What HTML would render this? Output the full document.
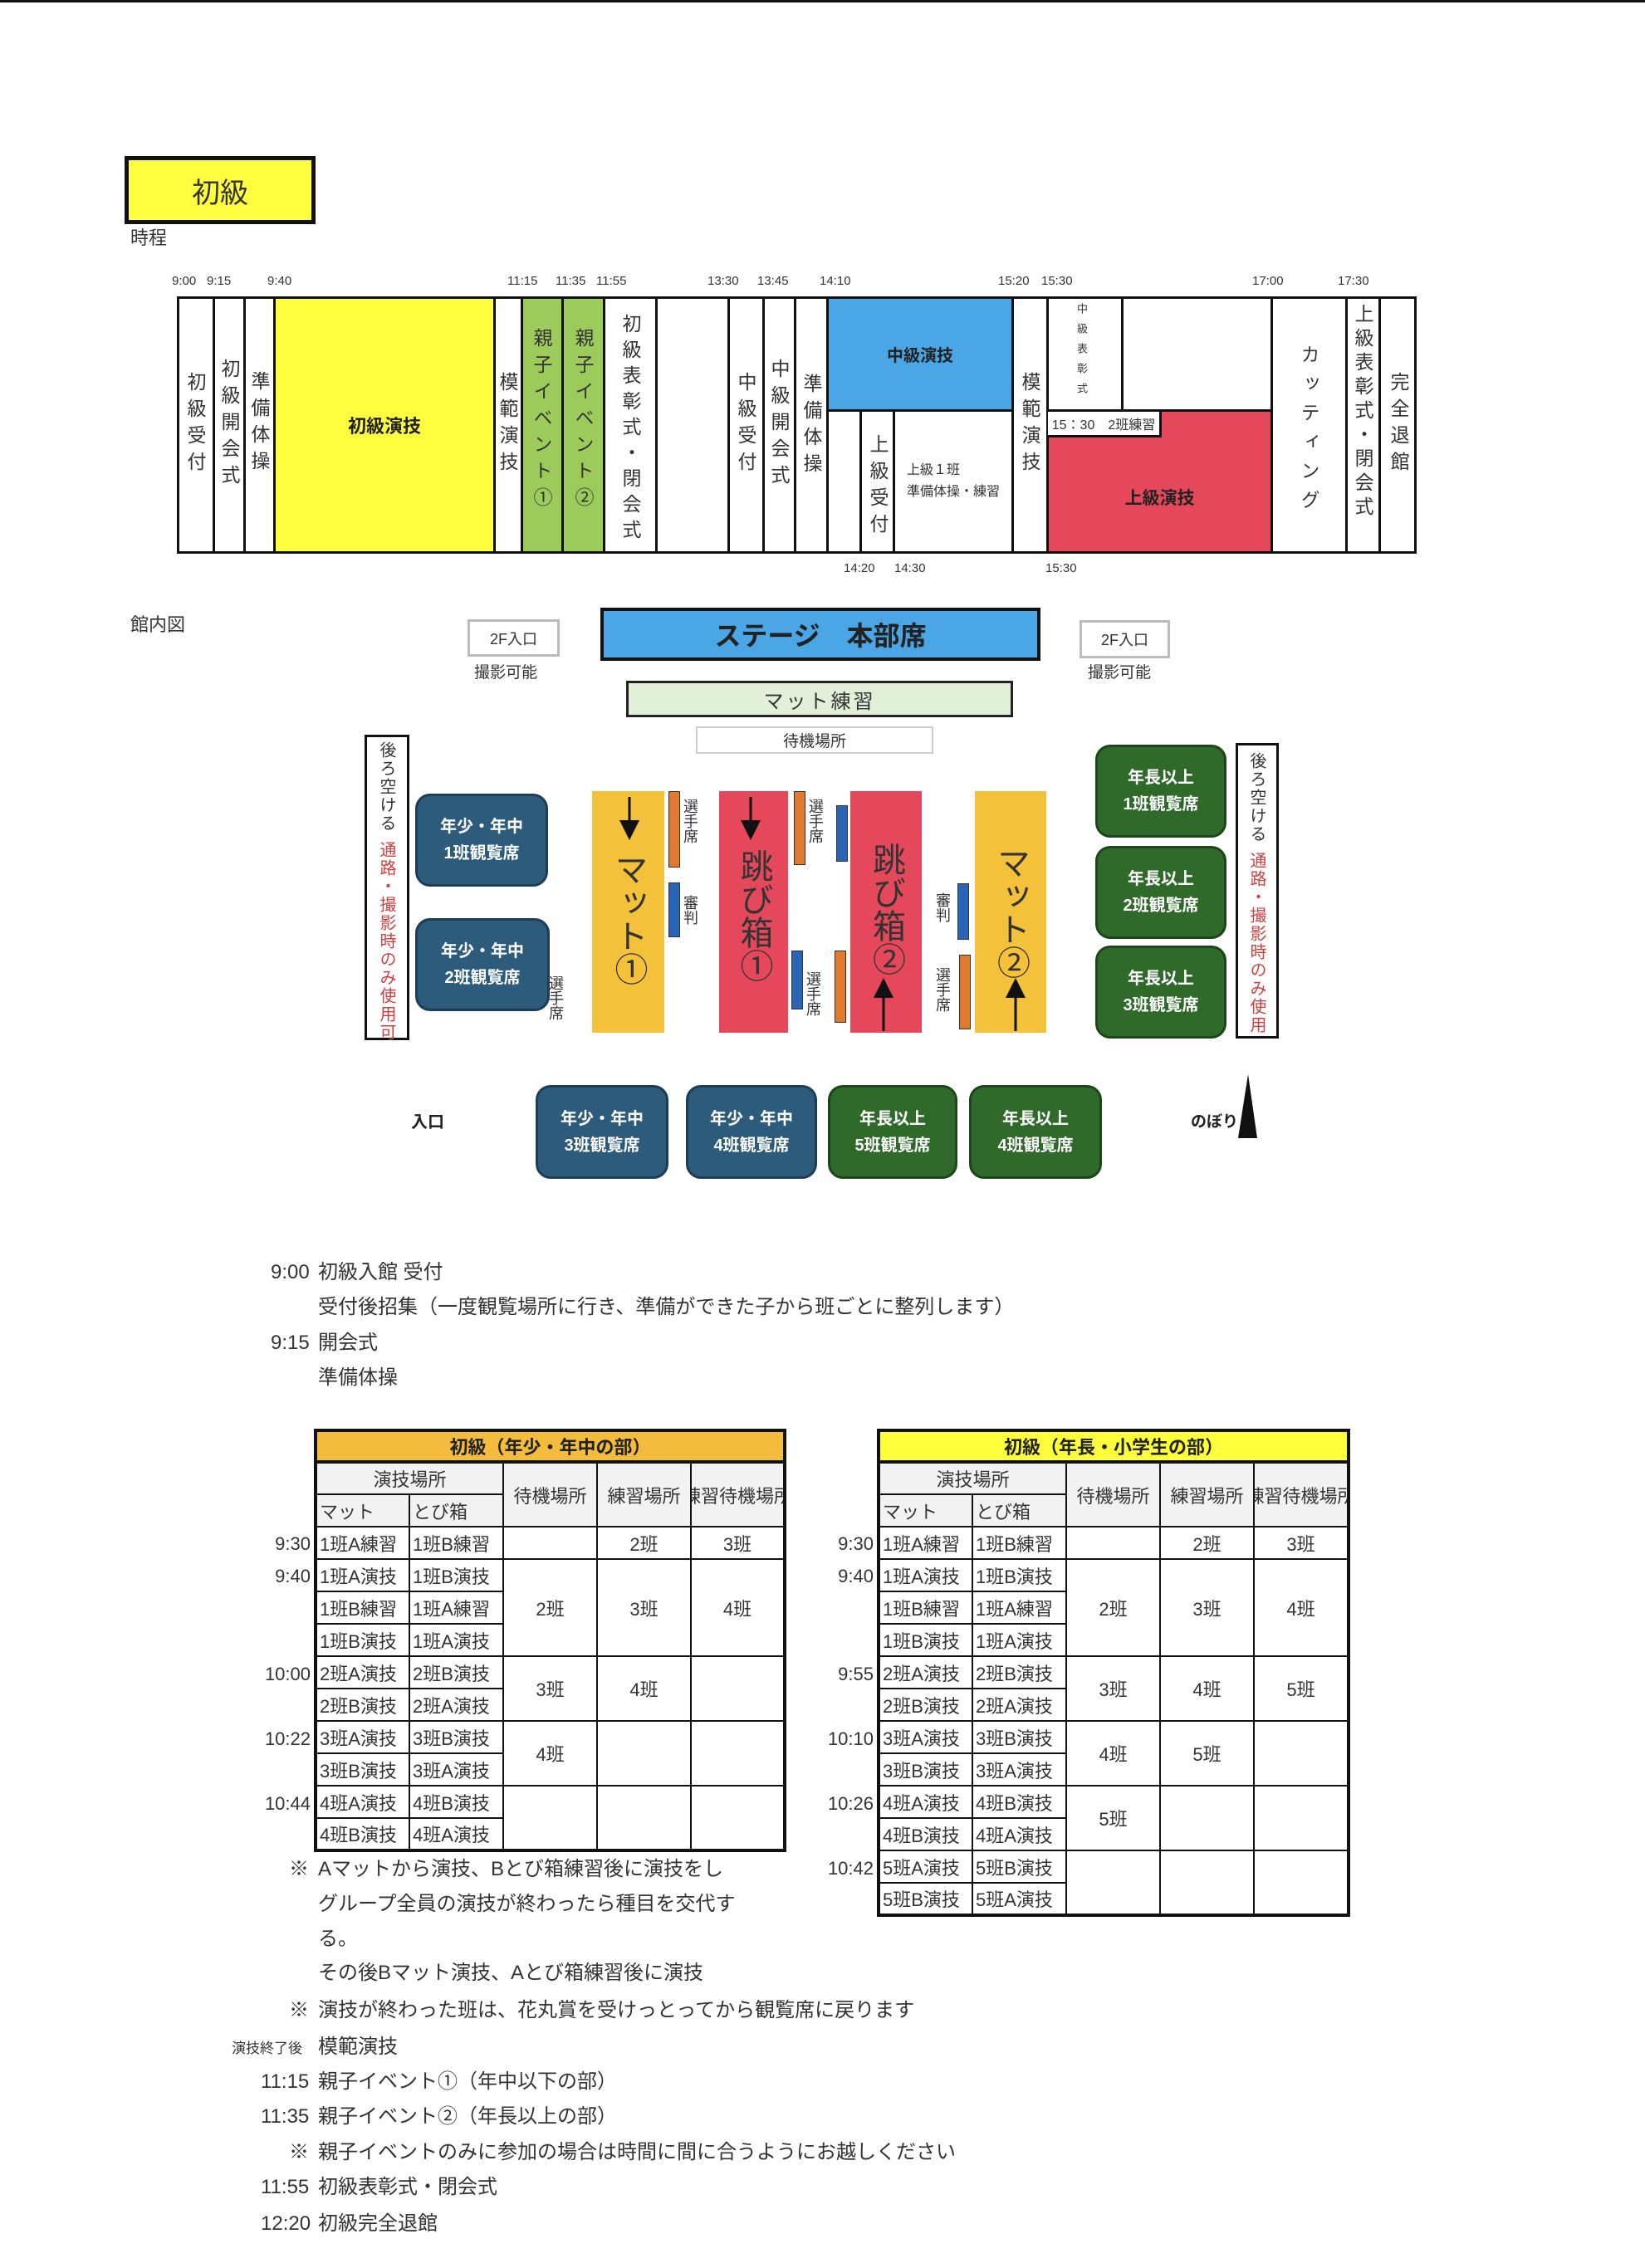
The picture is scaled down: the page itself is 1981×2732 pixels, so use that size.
<!DOCTYPE html>
<html><head><meta charset="utf-8">
<style>
*{margin:0;padding:0;box-sizing:border-box}
body{width:1981px;height:2732px;position:relative;background:#fff;font-family:"Liberation Sans","Noto Sans CJK JP",sans-serif;color:#333;overflow:hidden}
.a{position:absolute}
.c{position:absolute;border:3px solid #111;background:#fff}
.v{writing-mode:vertical-rl;text-orientation:upright;position:absolute;font-size:23px;line-height:1;letter-spacing:9px;color:#333}
.cen{display:flex;align-items:center;justify-content:center}
.rb{position:absolute;border-radius:18px;color:#fff;font-weight:bold;font-size:20px;line-height:32px;text-align:center;display:flex;align-items:center;justify-content:center}
.blue{background:#2d5b7c;border:3px solid #1d3d55}
.green{background:#2f6a2a;border:3px solid #1c4619}
.strip{position:absolute;width:14px;border:1px solid #333}
.or{background:#e07a2e}.bl{background:#2a64b4}
.sv{writing-mode:vertical-rl;text-orientation:upright;position:absolute;font-size:18px;line-height:1;color:#333}
table{position:absolute;border-collapse:collapse;table-layout:fixed;font-size:22px;border:4px solid #111}
td{border:2px solid #111;height:39px;padding:0 3px;white-space:nowrap;overflow:hidden;color:#333}
td.h{background:#f2f2f2}
td.m{text-align:center}
.tt{font-weight:bold;text-align:center;height:38px;border:4px solid #111}
.clip{display:flex;justify-content:center;overflow:hidden;white-space:nowrap}
.time{position:absolute;font-size:22px;line-height:30px;text-align:right;width:80px}
.tx{position:absolute;font-size:24px;line-height:30px;white-space:nowrap;color:#333}
</style></head><body>
<div class="a" style="left:0;top:0;width:1981px;height:3px;background:#111"></div>

<div class="a cen" style="left:150px;top:188px;width:230px;height:82px;background:#ffff40;border:5px solid #111;font-size:34px;color:#333">初級</div>
<div class="tx" style="left:157px;top:272px;font-size:22px">時程</div>

<div class="tx" style="left:207px;top:324px;font-size:15px">9:00</div>
<div class="tx" style="left:249px;top:324px;font-size:15px">9:15</div>
<div class="tx" style="left:322px;top:324px;font-size:15px">9:40</div>
<div class="tx" style="left:611px;top:324px;font-size:15px">11:15</div>
<div class="tx" style="left:669px;top:324px;font-size:15px">11:35</div>
<div class="tx" style="left:718px;top:324px;font-size:15px">11:55</div>
<div class="tx" style="left:852px;top:324px;font-size:15px">13:30</div>
<div class="tx" style="left:912px;top:324px;font-size:15px">13:45</div>
<div class="tx" style="left:987px;top:324px;font-size:15px">14:10</div>
<div class="tx" style="left:1202px;top:324px;font-size:15px">15:20</div>
<div class="tx" style="left:1254px;top:324px;font-size:15px">15:30</div>
<div class="tx" style="left:1508px;top:324px;font-size:15px">17:00</div>
<div class="tx" style="left:1611px;top:324px;font-size:15px">17:30</div>
<div class="tx" style="left:1016px;top:670px;font-size:15px">14:20</div>
<div class="tx" style="left:1077px;top:670px;font-size:15px">14:30</div>
<div class="tx" style="left:1259px;top:670px;font-size:15px">15:30</div>

<div class="c" style="left:213px;top:357px;width:46px;height:310px"></div>
<div class="c" style="left:256px;top:357px;width:40px;height:310px"></div>
<div class="c" style="left:293px;top:357px;width:39px;height:310px"></div>
<div class="c cen" style="left:329px;top:357px;width:268px;height:310px;background:#ffff40;font-weight:bold;font-size:22px;color:#222">初級演技</div>
<div class="c" style="left:594px;top:357px;width:36px;height:310px"></div>
<div class="c" style="left:627px;top:357px;width:52px;height:310px;background:#9ccb5c"></div>
<div class="c" style="left:676px;top:357px;width:53px;height:310px;background:#9ccb5c"></div>
<div class="c" style="left:726px;top:357px;width:66px;height:310px"></div>
<div class="c" style="left:789px;top:357px;width:90px;height:310px"></div>
<div class="c" style="left:876px;top:357px;width:45px;height:310px"></div>
<div class="c" style="left:918px;top:357px;width:41px;height:310px"></div>
<div class="c" style="left:956px;top:357px;width:42px;height:310px"></div>
<div class="c cen" style="left:995px;top:357px;width:226px;height:139px;background:#4aa6e4;font-weight:bold;font-size:20px;color:#222">中級演技</div>
<div class="c" style="left:995px;top:493px;width:43px;height:174px"></div>
<div class="c" style="left:1035px;top:493px;width:43px;height:174px"></div>
<div class="c cen" style="left:1075px;top:493px;width:146px;height:174px;flex-direction:column;font-size:16px;line-height:26px">上級１班<br>準備体操・練習</div>
<div class="c" style="left:1218px;top:357px;width:45px;height:310px"></div>
<div class="c" style="left:1260px;top:357px;width:93px;height:139px"></div>
<div class="c" style="left:1350px;top:357px;width:183px;height:139px"></div>
<div class="c" style="left:1260px;top:493px;width:273px;height:174px;background:#e4485a"></div>
<div class="a cen" style="left:1262px;top:496px;width:137px;height:31px;background:#fff;border-right:3px solid #111;border-bottom:3px solid #111;font-size:16px">15：30　2班練習</div>
<div class="a cen" style="left:1260px;top:545px;width:273px;height:107px;font-weight:bold;font-size:21px;color:#222">上級演技</div>
<div class="c" style="left:1530px;top:357px;width:93px;height:310px"></div>
<div class="c" style="left:1620px;top:357px;width:43px;height:310px"></div>
<div class="c" style="left:1660px;top:357px;width:46px;height:310px"></div>

<div class="v" style="left:223px;top:448px">初級受付</div>
<div class="v" style="left:264px;top:432px">初級開会式</div>
<div class="v" style="left:300px;top:447px">準備体操</div>
<div class="v" style="left:599px;top:448px">模範演技</div>
<div class="v" style="left:640px;top:395px">親子イベント①</div>
<div class="v" style="left:690px;top:395px">親子イベント②</div>
<div class="v" style="left:747px;top:378px;letter-spacing:8px">初級表彰式・閉会式</div>
<div class="v" style="left:886px;top:448px">中級受付</div>
<div class="v" style="left:926px;top:432px">中級開会式</div>
<div class="v" style="left:965px;top:450px">準備体操</div>
<div class="v" style="left:1045px;top:523px">上級受付</div>
<div class="v" style="left:1228px;top:448px">模範演技</div>
<div class="v" style="left:1296px;top:365px;font-size:13px;letter-spacing:11px">中級表彰式</div>
<div class="v" style="left:1564px;top:415px;letter-spacing:12px">カッティング</div>
<div class="v" style="left:1629px;top:366px;letter-spacing:6px">上級表彰式・閉会式</div>
<div class="v" style="left:1672px;top:448px">完全退館</div>

<div class="tx" style="left:157px;top:738px;font-size:22px">館内図</div>
<div class="a cen" style="left:563px;top:746px;width:111px;height:45px;border:3px solid #bbb;font-size:18px">2F入口</div>
<div class="tx" style="left:571px;top:796px;font-size:19px">撮影可能</div>
<div class="a cen" style="left:1300px;top:747px;width:109px;height:46px;border:3px solid #bbb;font-size:18px">2F入口</div>
<div class="tx" style="left:1310px;top:796px;font-size:19px">撮影可能</div>
<div class="a cen" style="left:723px;top:732px;width:530px;height:64px;background:#4aa6e4;border:4px solid #111;font-weight:bold;font-size:32px;color:#222">ステージ　本部席</div>
<div class="a cen" style="left:754px;top:820px;width:466px;height:44px;background:#e2f0d9;border:3px solid #222;font-size:24px;letter-spacing:3px">マット練習</div>
<div class="a cen" style="left:838px;top:875px;width:286px;height:33px;border:2px solid #ccc;font-size:19px">待機場所</div>

<div class="a" style="left:439px;top:885px;width:54px;height:368px;border:3px solid #111"></div>
<div class="sv" style="left:455px;top:893px;font-size:20px;letter-spacing:2px">後ろ空ける<span style="color:#d04040;display:inline-block;margin-top:10px">通路・撮影時のみ使用可</span></div>
<div class="a" style="left:1488px;top:895px;width:52px;height:356px;border:3px solid #111"></div>
<div class="sv" style="left:1503px;top:906px;font-size:20px;letter-spacing:2px">後ろ空ける<span style="color:#d04040;display:inline-block;margin-top:10px">通路・撮影時のみ使用</span></div>

<div class="rb blue" style="left:500px;top:956px;width:160px;height:112px">年少・年中<br>1班観覧席</div>
<div class="rb blue" style="left:500px;top:1106px;width:162px;height:112px">年少・年中<br>2班観覧席</div>
<div class="sv" style="left:660px;top:1175px">選手席</div>

<div class="a cen" style="left:713px;top:953px;width:87px;height:291px;background:#f3c13a"><span class="sv" style="position:static;font-size:40px;margin-top:16px">マット①</span></div>
<div class="a cen" style="left:866px;top:953px;width:83px;height:291px;background:#e4485a"><span class="sv" style="position:static;font-size:40px;margin-top:8px">跳び箱①</span></div>
<div class="a cen" style="left:1024px;top:953px;width:86px;height:291px;background:#e4485a"><span class="sv" style="position:static;font-size:40px;margin-top:-8px">跳び箱②</span></div>
<div class="a cen" style="left:1174px;top:953px;width:86px;height:291px;background:#f3c13a"><span class="sv" style="position:static;font-size:40px;margin-top:0px">マット②</span></div>

<div class="strip or" style="left:805px;top:953px;height:92px"></div>
<div class="sv" style="left:822px;top:962px">選手席</div>
<div class="strip bl" style="left:805px;top:1063px;height:66px"></div>
<div class="sv" style="left:822px;top:1078px">審判</div>
<div class="strip or" style="left:956px;top:953px;height:89px"></div>
<div class="sv" style="left:973px;top:962px">選手席</div>
<div class="strip bl" style="left:1007px;top:970px;height:68px"></div>
<div class="strip bl" style="left:953px;top:1145px;height:71px"></div>
<div class="strip or" style="left:1005px;top:1145px;height:87px"></div>
<div class="sv" style="left:970px;top:1170px">選手席</div>
<div class="sv" style="left:1126px;top:1075px">審判</div>
<div class="strip bl" style="left:1153px;top:1064px;height:68px"></div>
<div class="sv" style="left:1126px;top:1165px">選手席</div>
<div class="strip or" style="left:1155px;top:1150px;height:90px"></div>

<div class="rb green" style="left:1319px;top:897px;width:158px;height:112px">年長以上<br>1班観覧席</div>
<div class="rb green" style="left:1319px;top:1019px;width:158px;height:112px">年長以上<br>2班観覧席</div>
<div class="rb green" style="left:1319px;top:1139px;width:158px;height:112px">年長以上<br>3班観覧席</div>

<div class="rb blue" style="left:645px;top:1307px;width:160px;height:113px">年少・年中<br>3班観覧席</div>
<div class="rb blue" style="left:826px;top:1307px;width:158px;height:113px">年少・年中<br>4班観覧席</div>
<div class="rb green" style="left:997px;top:1307px;width:156px;height:113px">年長以上<br>5班観覧席</div>
<div class="rb green" style="left:1167px;top:1307px;width:160px;height:113px">年長以上<br>4班観覧席</div>
<div class="tx" style="left:495px;top:1337px;font-size:20px;font-weight:bold;color:#222">入口</div>
<div class="tx" style="left:1434px;top:1337px;font-size:19px;font-weight:bold;color:#222">のぼり</div>

<svg class="a" style="left:0;top:0" width="1981" height="2732">
<defs><marker id="ah" markerWidth="8" markerHeight="8" refX="4" refY="4" orient="auto"><path d="M0,0 L8,4 L0,8 z" fill="#111"/></marker></defs>
<g stroke="#111" stroke-width="3">
<line x1="758" y1="960" x2="758" y2="1000" marker-end="url(#ah)"/>
<line x1="904" y1="960" x2="904" y2="1000" marker-end="url(#ah)"/>
<line x1="1064" y1="1242" x2="1064" y2="1190" marker-end="url(#ah)"/>
<line x1="1223" y1="1242" x2="1223" y2="1190" marker-end="url(#ah)"/>
</g>
<polygon points="1503,1294 1491,1371 1514,1371" fill="#111"/>
</svg>

<div class="tx" style="left:326px;top:1518px">9:00</div><div class="tx" style="left:383px;top:1518px">初級入館 受付</div>
<div class="tx" style="left:383px;top:1560px">受付後招集（一度観覧場所に行き、準備ができた子から班ごとに整列します）</div>
<div class="tx" style="left:326px;top:1603px">9:15</div><div class="tx" style="left:383px;top:1603px">開会式</div>
<div class="tx" style="left:383px;top:1645px">準備体操</div>

<table style="left:378px;top:1721px;width:565px">
<colgroup><col style="width:113px"><col style="width:113px"><col style="width:113px"><col style="width:113px"><col style="width:113px"></colgroup>
<tr><td colspan="5" class="tt" style="background:#f3bc3c;color:#222">初級（年少・年中の部）</td></tr>
<tr><td colspan="2" class="h m">演技場所</td><td rowspan="2" class="h m">待機場所</td><td rowspan="2" class="h m">練習場所</td><td rowspan="2" class="h" style="padding:0"><div class="clip">練習待機場所</div></td></tr>
<tr><td class="h">マット</td><td class="h">とび箱</td></tr>
<tr><td>1班A練習</td><td>1班B練習</td><td></td><td class="m">2班</td><td class="m">3班</td></tr>
<tr><td>1班A演技</td><td>1班B演技</td><td rowspan="3" class="m">2班</td><td rowspan="3" class="m">3班</td><td rowspan="3" class="m">4班</td></tr>
<tr><td>1班B練習</td><td>1班A練習</td></tr>
<tr><td>1班B演技</td><td>1班A演技</td></tr>
<tr><td>2班A演技</td><td>2班B演技</td><td rowspan="2" class="m">3班</td><td rowspan="2" class="m">4班</td><td rowspan="2"></td></tr>
<tr><td>2班B演技</td><td>2班A演技</td></tr>
<tr><td>3班A演技</td><td>3班B演技</td><td rowspan="2" class="m">4班</td><td rowspan="2"></td><td rowspan="2"></td></tr>
<tr><td>3班B演技</td><td>3班A演技</td></tr>
<tr><td>4班A演技</td><td>4班B演技</td><td rowspan="2"></td><td rowspan="2"></td><td rowspan="2"></td></tr>
<tr><td>4班B演技</td><td>4班A演技</td></tr>
</table>
<div class="time" style="left:294px;top:1845px">9:30</div>
<div class="time" style="left:294px;top:1884px">9:40</div>
<div class="time" style="left:294px;top:2002px">10:00</div>
<div class="time" style="left:294px;top:2080px">10:22</div>
<div class="time" style="left:294px;top:2158px">10:44</div>

<table style="left:1056px;top:1721px;width:566px">
<colgroup><col style="width:113px"><col style="width:113px"><col style="width:113px"><col style="width:113px"><col style="width:114px"></colgroup>
<tr><td colspan="5" class="tt" style="background:#ffff3c;color:#222">初級（年長・小学生の部）</td></tr>
<tr><td colspan="2" class="h m">演技場所</td><td rowspan="2" class="h m">待機場所</td><td rowspan="2" class="h m">練習場所</td><td rowspan="2" class="h" style="padding:0"><div class="clip">練習待機場所</div></td></tr>
<tr><td class="h">マット</td><td class="h">とび箱</td></tr>
<tr><td>1班A練習</td><td>1班B練習</td><td></td><td class="m">2班</td><td class="m">3班</td></tr>
<tr><td>1班A演技</td><td>1班B演技</td><td rowspan="3" class="m">2班</td><td rowspan="3" class="m">3班</td><td rowspan="3" class="m">4班</td></tr>
<tr><td>1班B練習</td><td>1班A練習</td></tr>
<tr><td>1班B演技</td><td>1班A演技</td></tr>
<tr><td>2班A演技</td><td>2班B演技</td><td rowspan="2" class="m">3班</td><td rowspan="2" class="m">4班</td><td rowspan="2" class="m">5班</td></tr>
<tr><td>2班B演技</td><td>2班A演技</td></tr>
<tr><td>3班A演技</td><td>3班B演技</td><td rowspan="2" class="m">4班</td><td rowspan="2" class="m">5班</td><td rowspan="2"></td></tr>
<tr><td>3班B演技</td><td>3班A演技</td></tr>
<tr><td>4班A演技</td><td>4班B演技</td><td rowspan="2" class="m">5班</td><td rowspan="2"></td><td rowspan="2"></td></tr>
<tr><td>4班B演技</td><td>4班A演技</td></tr>
<tr><td>5班A演技</td><td>5班B演技</td><td rowspan="2"></td><td rowspan="2"></td><td rowspan="2"></td></tr>
<tr><td>5班B演技</td><td>5班A演技</td></tr>
</table>
<div class="time" style="left:972px;top:1845px">9:30</div>
<div class="time" style="left:972px;top:1884px">9:40</div>
<div class="time" style="left:972px;top:2002px">9:55</div>
<div class="time" style="left:972px;top:2080px">10:10</div>
<div class="time" style="left:972px;top:2158px">10:26</div>
<div class="time" style="left:972px;top:2236px">10:42</div>

<div class="tx" style="left:348px;top:2237px">※</div><div class="tx" style="left:383px;top:2237px">Aマットから演技、Bとび箱練習後に演技をし</div>
<div class="tx" style="left:383px;top:2279px">グループ全員の演技が終わったら種目を交代す</div>
<div class="tx" style="left:383px;top:2321px">る。</div>
<div class="tx" style="left:383px;top:2362px">その後Bマット演技、Aとび箱練習後に演技</div>
<div class="tx" style="left:348px;top:2407px">※</div><div class="tx" style="left:383px;top:2407px">演技が終わった班は、花丸賞を受けっとってから観覧席に戻ります</div>
<div class="tx" style="left:279px;top:2453px;font-size:17px">演技終了後</div><div class="tx" style="left:383px;top:2451px">模範演技</div>
<div class="tx" style="left:314px;top:2493px">11:15</div><div class="tx" style="left:383px;top:2493px">親子イベント①（年中以下の部）</div>
<div class="tx" style="left:314px;top:2535px">11:35</div><div class="tx" style="left:383px;top:2535px">親子イベント②（年長以上の部）</div>
<div class="tx" style="left:348px;top:2578px">※</div><div class="tx" style="left:383px;top:2578px">親子イベントのみに参加の場合は時間に間に合うようにお越しください</div>
<div class="tx" style="left:314px;top:2620px">11:55</div><div class="tx" style="left:383px;top:2620px">初級表彰式・閉会式</div>
<div class="tx" style="left:314px;top:2664px">12:20</div><div class="tx" style="left:383px;top:2664px">初級完全退館</div>
</body></html>
